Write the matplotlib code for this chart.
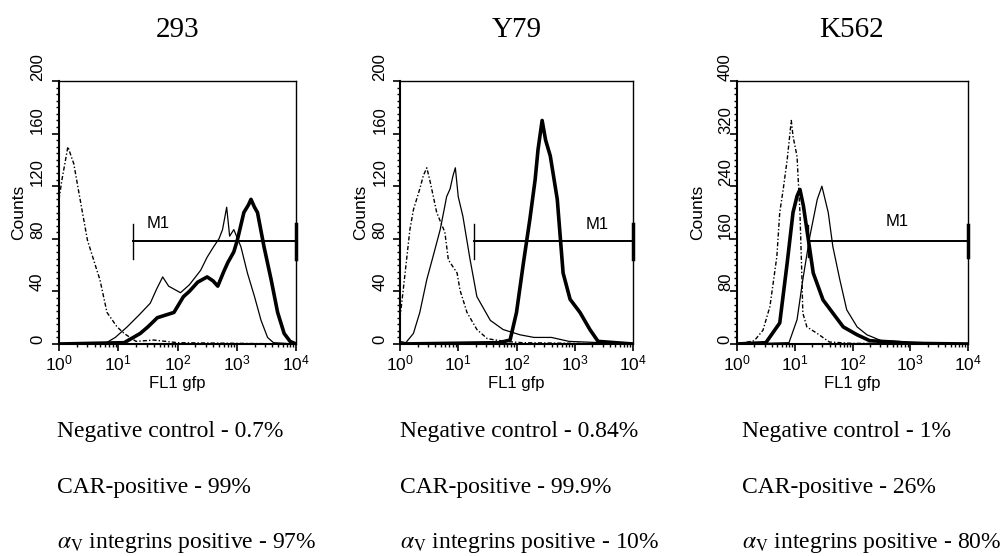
import numpy as np
import matplotlib
matplotlib.use("Agg")
import matplotlib.pyplot as plt
from matplotlib.ticker import MultipleLocator, LogLocator, NullFormatter

plt.rcParams['font.family'] = ['Liberation Sans', 'DejaVu Sans']
plt.rcParams['mathtext.fontset'] = 'stix'

# Cell lines
cell_lines = ["293", "Y79", "K562"]

# Histogram curves: positions in decades of FL1 (log10), counts
neg_293_x = [0.0, 0.05, 0.15, 0.25, 0.34, 0.48, 0.64, 0.69, 0.81, 0.98, 1.1, 1.3, 1.6, 2.0, 4.0]
neg_293_y = [110, 125, 150, 137, 114, 79, 56, 49, 24, 13, 8, 2, 3, 1, 0]
car_293_x = [0.0, 1.1, 1.37, 1.5, 1.66, 1.8, 1.94, 2.1, 2.2, 2.34, 2.5, 2.6, 2.68, 2.78, 2.85,
             2.95, 3.01, 3.12, 3.2, 3.24, 3.3, 3.35, 3.46, 3.58, 3.69, 3.8, 3.9, 4.0]
car_293_y = [0, 1, 8, 13, 20, 22, 24, 36, 40, 47, 51, 48, 44, 55, 62,
             70, 79, 100, 106, 110, 104, 100, 74, 49, 24, 8, 2, 0]
itg_293_x = [0.0, 0.8, 0.95, 1.15, 1.35, 1.54, 1.65, 1.75, 1.85, 2.05, 2.2, 2.39, 2.5, 2.61,
             2.7, 2.76, 2.83, 2.88, 2.95, 3.07, 3.18, 3.3, 3.41, 3.52, 3.62, 4.0]
itg_293_y = [0, 1, 5, 13, 22, 31, 42, 51, 44, 39, 45, 56, 66, 74,
             80, 87, 104, 82, 87, 74, 54, 36, 18, 5, 1, 0]

neg_y79_x = [0.0, 0.05, 0.17, 0.23, 0.34, 0.4, 0.46, 0.52, 0.63, 0.77, 0.83, 0.98, 1.03,
             1.15, 1.32, 1.5, 1.8, 2.1, 4.0]
neg_y79_y = [20, 39, 87, 102, 118, 128, 134, 123, 100, 85, 64, 54, 41, 24, 11, 4, 2, 1, 0]
car_y79_x = [0.0, 1.7, 1.89, 2.0, 2.12, 2.23, 2.32, 2.37, 2.44, 2.5, 2.58, 2.7, 2.8, 2.92,
             3.09, 3.26, 3.4, 4.0]
car_y79_y = [0, 1, 3, 24, 62, 95, 125, 148, 170, 155, 143, 110, 54, 34, 24, 11, 2, 0]
itg_y79_x = [0.0, 0.1, 0.23, 0.34, 0.46, 0.57, 0.69, 0.77, 0.8, 0.86, 0.91, 0.95, 1.0, 1.08,
             1.2, 1.32, 1.55, 1.77, 2.06, 2.3, 2.6, 2.9, 4.0]
itg_y79_y = [2, 1, 8, 24, 49, 67, 87, 105, 112, 118, 128, 134, 112, 97,
             65, 36, 18, 11, 7, 5, 5, 2, 0]

neg_k562_x = [0.0, 0.3, 0.45, 0.57, 0.69, 0.74, 0.8, 0.87, 0.94, 0.97, 1.04, 1.06, 1.09,
              1.12, 1.14, 1.21, 1.39, 1.6, 2.0, 4.0]
neg_k562_y = [0, 5, 21, 57, 133, 200, 235, 281, 340, 316, 285, 250, 200, 113, 47, 26, 16, 3, 1, 0]
car_k562_x = [0.0, 0.5, 0.74, 0.87, 0.97, 1.04, 1.09, 1.15, 1.21, 1.32, 1.49, 1.66, 1.84,
              2.08, 2.3, 2.7, 3.0, 4.0]
car_k562_y = [0, 2, 32, 124, 200, 225, 235, 210, 174, 108, 67, 47, 26, 14, 5, 3, 1, 0]
itg_k562_x = [0.0, 0.9, 1.04, 1.14, 1.26, 1.39, 1.47, 1.58, 1.66, 1.78, 1.9, 2.08, 2.25,
              2.5, 3.0, 3.5, 4.0]
itg_k562_y = [0, 2, 37, 98, 163, 220, 240, 200, 148, 98, 52, 26, 14, 5, 3, 1, 0]

# Axis ranges and M1 gate
y_max = [200, 200, 400]
y_major = [40, 40, 80]
y_minor = [5, 5, 10]
m1_start = [1.25, 1.27, 1.23]      # decades
m1_level = [78, 78, 157]
m1_bar = [13, 13, 24]
m1_label_x = [1.68, 3.38, 2.77]
m1_label_y = [92, 91, 186]

# Percentages listed under each panel
neg_pct = ["0.7%", "0.84%", "1%"]
car_pct = ["99%", "99.9%", "26%"]
itg_pct = ["97%", "10%", "80%"]

curves = [
    ((neg_293_x, neg_293_y), (car_293_x, car_293_y), (itg_293_x, itg_293_y)),
    ((neg_y79_x, neg_y79_y), (car_y79_x, car_y79_y), (itg_y79_x, itg_y79_y)),
    ((neg_k562_x, neg_k562_y), (car_k562_x, car_k562_y), (itg_k562_x, itg_k562_y)),
]

W, H = 1008, 556
fig = plt.figure(figsize=(W / 100, H / 100), dpi=100)

panel_px = [(59, 296), (400, 633), (737, 968)]
top_px, bot_px = 81, 344
title_x = [178, 517, 852]
text_x = [57, 400, 742]
ytick_pad = [5, 4, -2]
ylabel_pad = [3, 3, 9]

serif = ['Liberation Serif', 'DejaVu Serif']

for i in range(3):
    l, r = panel_px[i]
    ax = fig.add_axes([l / W, 1 - bot_px / H, (r - l) / W, (bot_px - top_px) / H])
    (nx, ny), (cx, cy), (ix, iy) = curves[i]
    ax.plot(10 ** np.array(nx), ny, color='black', lw=1.0, ls=(0, (3, 1.5, 1, 1.5)))
    ax.plot(10 ** np.array(ix), iy, color='black', lw=0.9)
    ax.plot(10 ** np.array(cx), cy, color='black', lw=2.6)

    # M1 gate marker
    x0 = 10 ** m1_start[i]
    ax.plot([x0, 1e4], [m1_level[i], m1_level[i]], color='black', lw=1.4)
    ax.plot([x0, x0], [m1_level[i] - m1_bar[i], m1_level[i] + m1_bar[i]], color='black', lw=1.0)
    ax.plot([1e4, 1e4], [m1_level[i] - m1_bar[i], m1_level[i] + m1_bar[i]], color='black',
            lw=2.5, clip_on=False)
    ax.text(10 ** m1_label_x[i], m1_label_y[i], "M1", ha='center', va='center', fontsize=12)

    ax.set_xscale('log')
    ax.set_xlim(1, 1e4)
    ax.set_ylim(0, y_max[i])
    ax.yaxis.set_major_locator(MultipleLocator(y_major[i]))
    ax.yaxis.set_minor_locator(MultipleLocator(y_minor[i]))
    ax.xaxis.set_major_locator(LogLocator(base=10, numticks=10))
    ax.xaxis.set_minor_locator(LogLocator(base=10, subs=np.arange(2, 10), numticks=10))
    ax.xaxis.set_minor_formatter(NullFormatter())
    ax.tick_params(axis='both', which='major', direction='out', length=5, width=1.2)
    ax.tick_params(axis='x', which='major', labelsize=12.5, pad=2)
    ax.tick_params(axis='y', which='major', labelsize=12, pad=ytick_pad[i], labelrotation=90)
    ax.tick_params(axis='both', which='minor', direction='out', length=2.5, width=1.0)
    for lab in ax.get_yticklabels():
        lab.set_va('bottom')
    for side in ['left', 'bottom']:
        ax.spines[side].set_linewidth(1.5)
    for side in ['top', 'right']:
        ax.spines[side].set_linewidth(1.0)
    ax.set_ylabel("Counts", fontsize=12.5, labelpad=ylabel_pad[i])
    ax.set_xlabel("FL1 gfp", fontsize=12, labelpad=2)

    fig.text(title_x[i] / W, 1 - 30 / H, cell_lines[i], ha='center', va='center',
             fontsize=21, family=serif)
    fig.text(text_x[i] / W, 1 - 431 / H, "Negative control - " + neg_pct[i],
             ha='left', va='center', fontsize=17, family=serif)
    fig.text(text_x[i] / W, 1 - 488 / H, "CAR-positive - " + car_pct[i],
             ha='left', va='center', fontsize=17, family=serif)
    fig.text(text_x[i] / W, 1 - 543 / H, r"$\alpha_{\mathrm{V}}$ integrins positive - " + itg_pct[i],
             ha='left', va='center', fontsize=17, family=serif)

fig.savefig("out.png", dpi=100)
